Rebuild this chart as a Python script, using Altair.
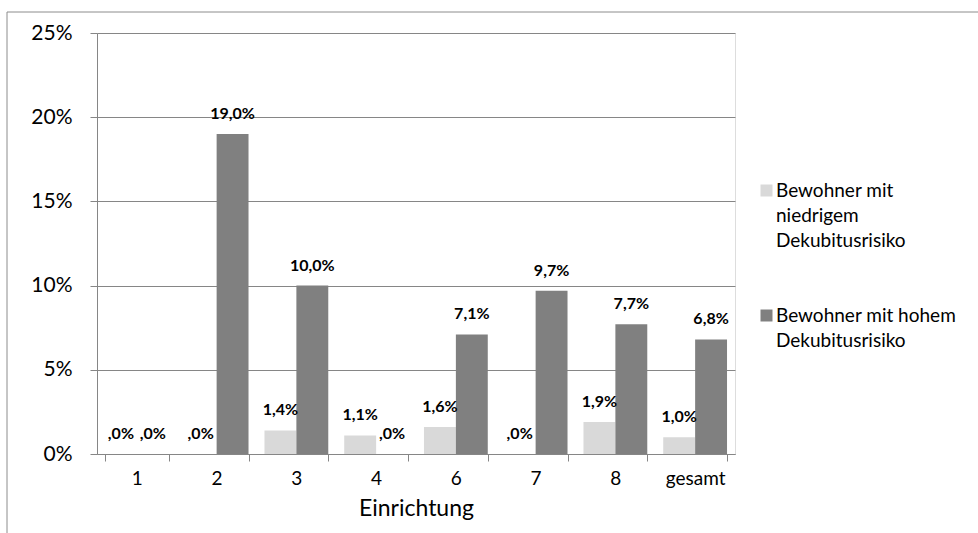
import altair as alt
import pandas as pd

# Dekubitus-Prävalenz je Einrichtung, getrennt nach Risikogruppe (in %)
einrichtungen = ["1", "2", "3", "4", "6", "7", "8", "gesamt"]
niedriges_risiko = [0.0, 0.0, 1.4, 1.1, 1.6, 0.0, 1.9, 1.0]
hohes_risiko = [0.0, 19.0, 10.0, 0.0, 7.1, 9.7, 7.7, 6.8]
gruppen = ["Bewohner mit|niedrigem|Dekubitusrisiko", "Bewohner mit hohem|Dekubitusrisiko"]
y_ticks = [0, 5, 10, 15, 20, 25]


def de_label(v):
    s = f"{v:.1f}".replace(".", ",")
    return s[1:] + "%" if s.startswith("0,") else s + "%"


rows = []
for i, e in enumerate(einrichtungen):
    rows.append({"Einrichtung": e, "Gruppe": gruppen[0], "Wert": niedriges_risiko[i],
                 "Label": de_label(niedriges_risiko[i])})
    rows.append({"Einrichtung": e, "Gruppe": gruppen[1], "Wert": hohes_risiko[i],
                 "Label": de_label(hohes_risiko[i])})
df = pd.DataFrame(rows)

W, H = 638, 421
GRID = "#868686"
FONT = "Lato"

x_enc = alt.X("Einrichtung:N", sort=einrichtungen, title="Einrichtung",
              scale=alt.Scale(paddingInner=0.2, paddingOuter=0.1),
              axis=alt.Axis(labelAngle=0, tickBand="extent", tickSize=7, domainColor=GRID,
                            tickColor=GRID, labelFontSize=19, labelColor="#000",
                            labelPadding=8, titleFontSize=23, titleFontWeight="normal",
                            titleColor="#000", titlePadding=9, labelFont=FONT, titleFont=FONT))
xoff = alt.XOffset("Gruppe:N", sort=gruppen,
                   scale=alt.Scale(paddingInner=0, paddingOuter=0))
y_enc = alt.Y("Wert:Q", title=None, scale=alt.Scale(domain=[0, 25], nice=False),
              axis=alt.Axis(values=y_ticks, labelExpr="datum.value + '%'", tickSize=7,
                            tickColor=GRID, domainColor=GRID, gridColor=GRID, grid=True,
                            labelFontSize=21, labelColor="#000", labelPadding=18,
                            labelFont=FONT))
color = alt.Color("Gruppe:N", sort=gruppen,
                  scale=alt.Scale(domain=gruppen, range=["#d9d9d9", "#808080"]),
                  legend=alt.Legend(title=None, orient="none", legendX=660, legendY=148,
                                    symbolType="square", symbolSize=144,
                                    symbolStrokeWidth=0, labelFontSize=19,
                                    labelFont=FONT, labelColor="#000",
                                    labelExpr="split(datum.label, '|')",
                                    labelLimit=300, rowPadding=55, labelOffset=0))

# outer chart frame (open to the right)
frame = alt.Chart(pd.DataFrame({"k": [0]})).mark_rect(
    fill=None, stroke="#8c8c8c", strokeWidth=1
).encode(x=alt.value(-90), x2=alt.value(W + 260), y=alt.value(-21), y2=alt.value(H + 120))

bars = alt.Chart(df).mark_bar().encode(x=x_enc, xOffset=xoff, y=y_enc, color=color)
labels = alt.Chart(df).mark_text(
    fontWeight="bold", fontSize=16, font=FONT, dy=-20, baseline="middle", color="#000"
).encode(x=alt.X("Einrichtung:N", sort=einrichtungen), xOffset=xoff, y="Wert:Q",
         text="Label:N")

chart = alt.layer(frame, bars, labels).properties(
    width=W, height=H,
    autosize=alt.AutoSizeParams(type="none"),
    padding={"left": 97, "top": 33, "right": 243, "bottom": 79},
    background="white",
).configure_view(stroke=None).configure(style={"guide-label": {"lineHeight": 25}})

chart.save("out.html", embed_options={"renderer": "svg", "actions": False})
